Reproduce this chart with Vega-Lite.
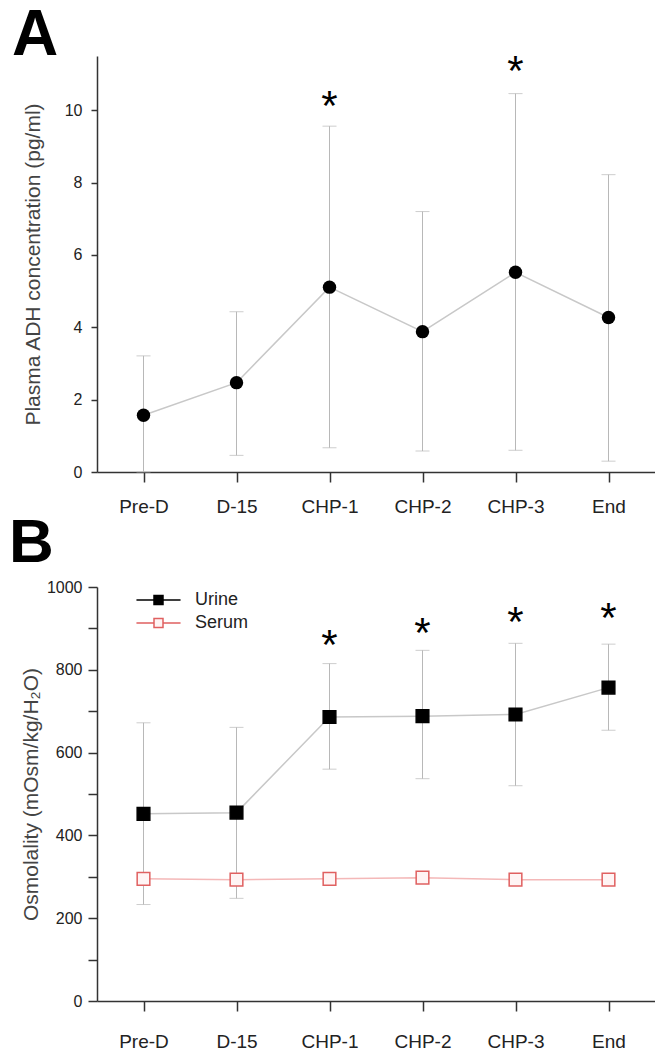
{
  "$schema": "https://vega.github.io/schema/vega-lite/v6.json",
  "background": "white",
  "padding": {"left": 9, "top": 4, "right": 0, "bottom": 0},
  "spacing": -4,
  "resolve": {"legend": {"fill": "independent", "stroke": "independent"}},
  "config": {
    "font": "Liberation Sans",
    "view": {"stroke": null},
    "axis": {"grid": false, "domainColor": "#333", "domainWidth": 1.5, "tickColor": "#333", "tickWidth": 1.5, "labelColor": "#222", "titleColor": "#444", "labelFont": "Liberation Sans", "titleFont": "Liberation Sans", "titleFontWeight": "normal"}
  },
  "datasets": {
    "adh": [
      {"t": "Pre-D", "mean": 1.57, "lo": 0, "hi": 3.21},
      {"t": "D-15", "mean": 2.47, "lo": 0.46, "hi": 4.43},
      {"t": "CHP-1", "mean": 5.11, "lo": 0.67, "hi": 9.56},
      {"t": "CHP-2", "mean": 3.88, "lo": 0.58, "hi": 7.2},
      {"t": "CHP-3", "mean": 5.52, "lo": 0.6, "hi": 10.46},
      {"t": "End", "mean": 4.27, "lo": 0.3, "hi": 8.22}
    ],
    "starsA": [
      {"t": "CHP-1", "y": 10.39, "s": "*"},
      {"t": "CHP-3", "y": 11.35, "s": "*"}
    ],
    "osm": [
      {"t": "Pre-D", "series": "Urine", "mean": 452, "lo": 233, "hi": 672},
      {"t": "D-15", "series": "Urine", "mean": 455, "lo": 248, "hi": 661},
      {"t": "CHP-1", "series": "Urine", "mean": 686, "lo": 560, "hi": 815},
      {"t": "CHP-2", "series": "Urine", "mean": 688, "lo": 537, "hi": 847},
      {"t": "CHP-3", "series": "Urine", "mean": 692, "lo": 520, "hi": 864},
      {"t": "End", "series": "Urine", "mean": 757, "lo": 654, "hi": 862},
      {"t": "Pre-D", "series": "Serum", "mean": 295, "lo": 288, "hi": 302},
      {"t": "D-15", "series": "Serum", "mean": 293, "lo": 286, "hi": 300},
      {"t": "CHP-1", "series": "Serum", "mean": 295, "lo": 288, "hi": 302},
      {"t": "CHP-2", "series": "Serum", "mean": 298, "lo": 291, "hi": 305},
      {"t": "CHP-3", "series": "Serum", "mean": 293, "lo": 286, "hi": 300},
      {"t": "End", "series": "Serum", "mean": 293, "lo": 286, "hi": 300}
    ],
    "starsB": [
      {"t": "CHP-1", "y": 885, "s": "*"},
      {"t": "CHP-2", "y": 914, "s": "*"},
      {"t": "CHP-3", "y": 939, "s": "*"},
      {"t": "End", "y": 949, "s": "*"}
    ]
  },
  "vconcat": [
    {
      "width": 558,
      "height": 416,
      "title": {"text": "A", "anchor": "start", "frame": "group", "dx": -85, "offset": -68, "baseline": "alphabetic", "fontSize": 64, "fontWeight": "bold", "color": "black", "font": "Liberation Sans"},
      "encoding": {
        "x": {"field": "t", "type": "ordinal", "sort": ["Pre-D", "D-15", "CHP-1", "CHP-2", "CHP-3", "End"], "scale": {"type": "point", "padding": 0.5},
          "axis": {"title": null, "labelAngle": 0, "tickSize": 10, "labelPadding": 15, "labelFontSize": 19}}
      },
      "layer": [
        {
          "data": {"name": "adh"},
          "mark": {"type": "line", "color": "#c8c8c8", "strokeWidth": 1.5},
          "encoding": {
            "y": {"field": "mean", "type": "quantitative", "scale": {"domain": [0, 11.5], "nice": false, "zero": true},
              "axis": {"title": "Plasma ADH concentration (pg/ml)", "values": [0,1,2,3,4,5,6,7,8,9,10,11], "labelExpr": "datum.value % 2 === 0 ? datum.label : ''", "tickSize": 6, "labelPadding": 9, "labelFontSize": 16, "titleFontSize": 21, "titlePadding": 21}}
          }
        },
        {
          "data": {"name": "adh"},
          "mark": {"type": "rule", "color": "#b8b8b8", "strokeWidth": 1},
          "encoding": {"y": {"field": "lo", "type": "quantitative"}, "y2": {"field": "hi"}}
        },
        {
          "data": {"name": "adh"},
          "mark": {"type": "tick", "color": "#b8b8b8", "thickness": 1, "size": 14},
          "encoding": {"y": {"field": "hi", "type": "quantitative"}}
        },
        {
          "data": {"name": "adh"},
          "mark": {"type": "tick", "color": "#b8b8b8", "thickness": 1, "size": 14},
          "encoding": {"y": {"field": "lo", "type": "quantitative"}}
        },
        {
          "data": {"name": "adh"},
          "mark": {"type": "point", "shape": "circle", "filled": true, "color": "black", "size": 180, "opacity": 1},
          "encoding": {"y": {"field": "mean", "type": "quantitative"}}
        },
        {
          "data": {"name": "starsA"},
          "mark": {"type": "text", "fontSize": 42, "dy": 24, "baseline": "alphabetic", "color": "black", "font": "Liberation Sans"},
          "encoding": {"y": {"field": "y", "type": "quantitative"}, "text": {"field": "s"}}
        }
      ]
    },
    {
      "width": 558,
      "height": 414,
      "title": {"text": "B", "anchor": "start", "frame": "group", "dx": -88, "offset": -45, "baseline": "alphabetic", "fontSize": 62, "fontWeight": "bold", "color": "black", "font": "Liberation Sans"},
      "encoding": {
        "x": {"field": "t", "type": "ordinal", "sort": ["Pre-D", "D-15", "CHP-1", "CHP-2", "CHP-3", "End"], "scale": {"type": "point", "padding": 0.5},
          "axis": {"title": null, "labelAngle": 0, "tickSize": 10, "labelPadding": 21, "labelFontSize": 19}}
      },
      "layer": [
        {
          "data": {"name": "osm"},
          "transform": [{"filter": "datum.series === 'Urine'"}],
          "mark": {"type": "line", "color": "#c8c8c8", "strokeWidth": 1.5},
          "encoding": {
            "y": {"field": "mean", "type": "quantitative", "scale": {"domain": [0, 1000], "nice": false},
              "axis": {"title": "Osmolality (mOsm/kg/H₂O)", "format": "d", "values": [0,100,200,300,400,500,600,700,800,900,1000], "labelExpr": "datum.value % 200 === 0 ? datum.label : ''", "tickSize": 9, "labelPadding": 6, "labelFontSize": 16, "titleFontSize": 21, "titlePadding": 5}}
          }
        },
        {
          "data": {"name": "osm"},
          "transform": [{"filter": "datum.series === 'Serum'"}],
          "mark": {"type": "line", "color": "#f4b8b8", "strokeWidth": 1.5},
          "encoding": {"y": {"field": "mean", "type": "quantitative"}}
        },
        {
          "data": {"name": "osm"},
          "transform": [{"filter": "datum.series === 'Urine'"}],
          "mark": {"type": "rule", "color": "#b8b8b8", "strokeWidth": 1},
          "encoding": {"y": {"field": "lo", "type": "quantitative"}, "y2": {"field": "hi"}}
        },
        {
          "data": {"name": "osm"},
          "transform": [{"filter": "datum.series === 'Urine'"}],
          "mark": {"type": "tick", "color": "#b8b8b8", "thickness": 1, "size": 14},
          "encoding": {"y": {"field": "hi", "type": "quantitative"}}
        },
        {
          "data": {"name": "osm"},
          "transform": [{"filter": "datum.series === 'Urine'"}],
          "mark": {"type": "tick", "color": "#b8b8b8", "thickness": 1, "size": 14},
          "encoding": {"y": {"field": "lo", "type": "quantitative"}}
        },
        {
          "data": {"name": "osm"},
          "mark": {"type": "point", "shape": "square", "size": 160, "strokeWidth": 1.5, "opacity": 1, "fillOpacity": 1},
          "encoding": {
            "y": {"field": "mean", "type": "quantitative"},
            "fill": {"field": "series", "type": "nominal", "scale": {"domain": ["Urine", "Serum"], "range": ["#000000", "#fff4f4"]},
              "legend": {"title": null, "orient": "none", "legendX": 52.5, "legendY": 4, "padding": 0, "rowPadding": 5, "symbolType": "M-4.9,0H-1M1,0H4.9M-1,-1H1V1H-1Z", "symbolSize": 81, "symbolStrokeWidth": 1.5, "labelFontSize": 18, "labelOffset": 27.5, "labelColor": "#222", "labelFont": "Liberation Sans",
                "encode": {"symbols": {"update": {"stroke": {"signal": "datum.value === 'Urine' ? '#b0b0b0' : '#ee9090'"}, "fillOpacity": {"value": 1}, "strokeOpacity": {"value": 1}}}}}},
            "stroke": {"field": "series", "type": "nominal", "scale": {"domain": ["Urine", "Serum"], "range": ["#000000", "#e06060"]}, "legend": null}
          }
        },
        {
          "data": {"name": "starsB"},
          "mark": {"type": "text", "fontSize": 42, "dy": 24, "baseline": "alphabetic", "color": "black", "font": "Liberation Sans"},
          "encoding": {"y": {"field": "y", "type": "quantitative"}, "text": {"field": "s"}}
        }
      ]
    }
  ]
}
